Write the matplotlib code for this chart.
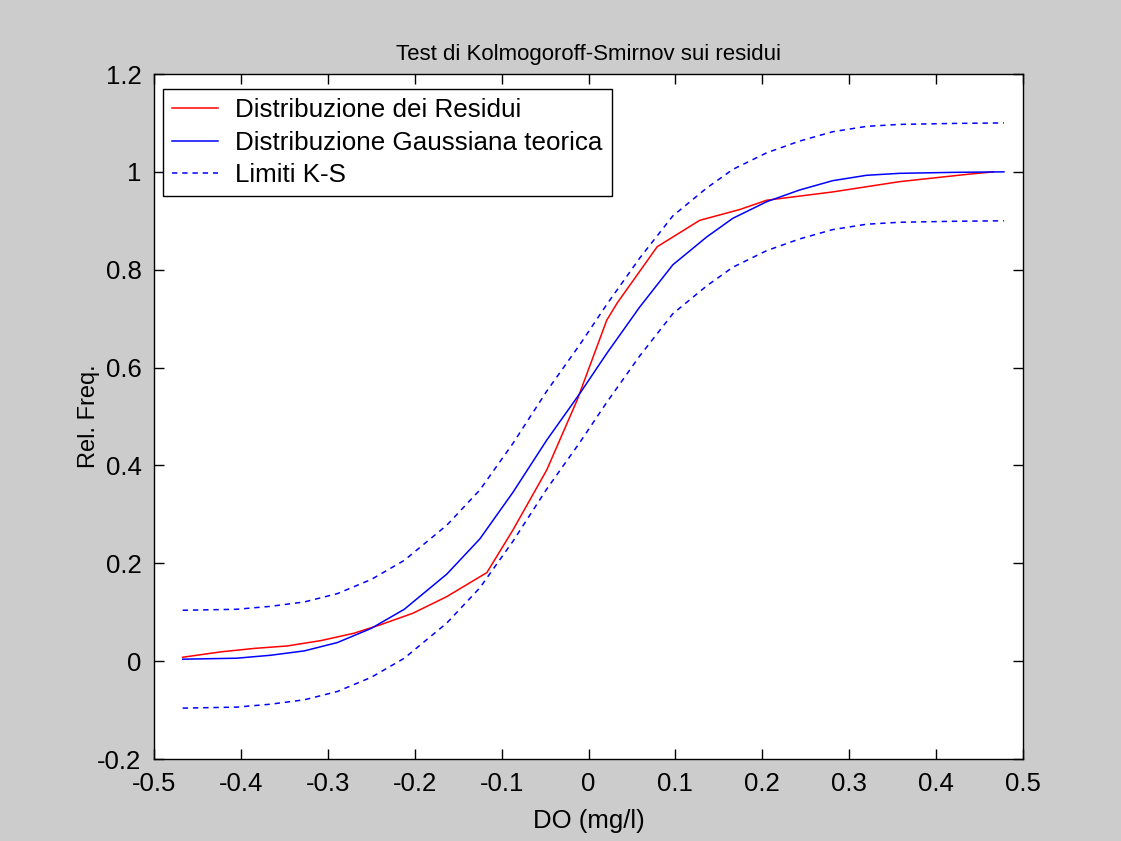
import matplotlib
matplotlib.use("Agg")
import matplotlib.pyplot as plt

plt.rcParams['font.family'] = ['Liberation Sans', 'DejaVu Sans']

# residui: distribuzione empirica
x_res = [-0.467, -0.423, -0.385, -0.347, -0.308, -0.270, -0.240, -0.202, -0.163,
         -0.117, -0.087, -0.048, -0.013, 0.021, 0.033, 0.079, 0.128, 0.174,
         0.205, 0.281, 0.358, 0.436, 0.466]
y_res = [0.008, 0.019, 0.026, 0.031, 0.042, 0.057, 0.074, 0.098, 0.132,
         0.181, 0.268, 0.391, 0.534, 0.697, 0.732, 0.847, 0.901, 0.923,
         0.942, 0.959, 0.980, 0.995, 1.000]

# gaussiana teorica
x_gau = [-0.467, -0.405, -0.366, -0.327, -0.289, -0.250, -0.212, -0.163, -0.125,
         -0.087, -0.048, -0.010, 0.021, 0.059, 0.097, 0.136, 0.166, 0.205,
         0.243, 0.281, 0.320, 0.358, 0.420, 0.478]
y_gau = [0.004, 0.006, 0.012, 0.021, 0.038, 0.067, 0.106, 0.178, 0.250,
         0.345, 0.452, 0.547, 0.629, 0.724, 0.810, 0.867, 0.905, 0.939,
         0.963, 0.982, 0.993, 0.997, 0.999, 1.000]

# limiti K-S
y_sup = [0.104, 0.106, 0.112, 0.121, 0.138, 0.167, 0.206, 0.278, 0.350,
         0.445, 0.552, 0.647, 0.729, 0.824, 0.910, 0.967, 1.005, 1.039,
         1.063, 1.082, 1.093, 1.097, 1.099, 1.100]
y_inf = [-0.096, -0.094, -0.088, -0.079, -0.062, -0.033, 0.006, 0.078, 0.150,
         0.245, 0.352, 0.447, 0.529, 0.624, 0.710, 0.767, 0.805, 0.839,
         0.863, 0.882, 0.893, 0.897, 0.899, 0.900]

fig = plt.figure(figsize=(11.21, 8.41), dpi=100, facecolor='#cccccc')
ax = fig.add_axes([0.1374, 0.0975, 0.7752, 0.8145])
ax.set_facecolor('white')

ax.plot(x_res, y_res, color='#ff0000', lw=1.1, label='Distribuzione dei Residui')
ax.plot(x_gau, y_gau, color='#0000ff', lw=1.1, label='Distribuzione Gaussiana teorica')
ax.plot(x_gau, y_sup, color='#0000ff', lw=1.1, linestyle=(0, (3.5, 3.2)), label='Limiti K-S')
ax.plot(x_gau, y_inf, color='#0000ff', lw=1.1, linestyle=(0, (3.5, 3.2)))

ax.set_xlim(-0.5, 0.5)
ax.set_ylim(-0.2, 1.2)
ax.set_xticks([-0.5, -0.4, -0.3, -0.2, -0.1, 0, 0.1, 0.2, 0.3, 0.4, 0.5])
ax.set_xticklabels(['-0.5', '-0.4', '-0.3', '-0.2', '-0.1', '0', '0.1', '0.2', '0.3', '0.4', '0.5'])
ax.set_yticks([-0.2, 0, 0.2, 0.4, 0.6, 0.8, 1, 1.2])
ax.set_yticklabels(['-0.2', '0', '0.2', '0.4', '0.6', '0.8', '1', '1.2'])
ax.tick_params(direction='in', length=7, width=1, top=True, right=True,
               labelsize=18.5, pad=9, colors='black')
for s in ax.spines.values():
    s.set_linewidth(1.0)
    s.set_color('black')

ax.set_title('Test di Kolmogoroff-Smirnov sui residui', fontsize=16, pad=10)
ax.set_xlabel('DO (mg/l)', fontsize=18.5, labelpad=10)
ax.set_ylabel('Rel. Freq.', fontsize=17)
ax.yaxis.set_label_coords(-0.062, 0.5)

leg = ax.legend(loc='upper left', bbox_to_anchor=(9 / 869, 1 - 15 / 685),
                fontsize=18.75, frameon=True, fancybox=False,
                edgecolor='black', framealpha=1, handlelength=1.77, handletextpad=0.65,
                labelspacing=0.33, borderpad=0.35, borderaxespad=0)
leg.get_frame().set_linewidth(1.0)

fig.savefig('out.png', dpi=100, facecolor=fig.get_facecolor())
